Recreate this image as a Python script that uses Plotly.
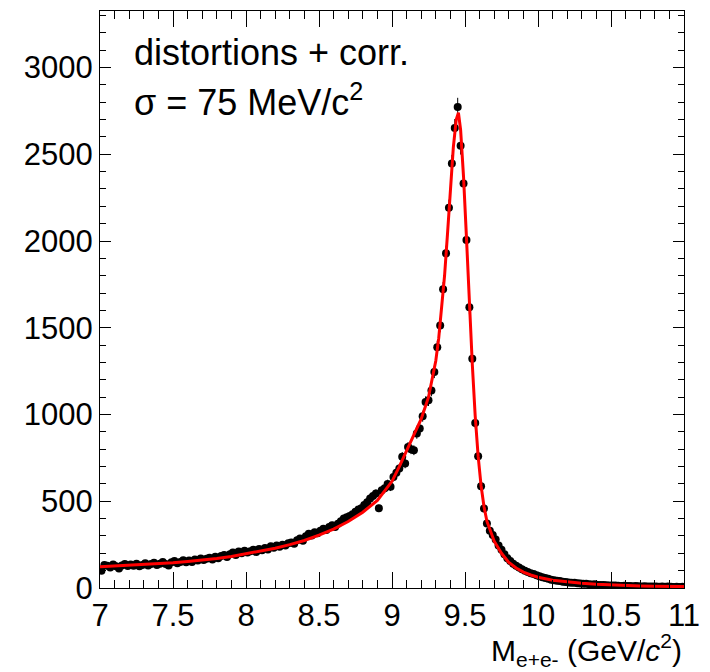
import numpy as np
import plotly.graph_objects as go

# Histogram binning (7 - 11 GeV/c^2, 200 bins)
x_lo, x_hi, n_bins = 7.0, 11.0, 200
bin_centers = x_lo + (np.arange(n_bins) + 0.5) * (x_hi - x_lo) / n_bins

# Entries per bin
counts = [
    100, 132, 128, 118, 135, 125, 112, 130, 138, 127,
    135, 128, 140, 125, 133, 142, 130, 138, 145, 132,
    140, 150, 138, 130, 148, 155, 142, 150, 160, 148,
    158, 150, 165, 158, 170, 162, 168, 175, 165, 180,
    172, 185, 190, 178, 195, 205, 190, 210, 200, 215,
    205, 212, 220, 208, 225, 218, 230, 222, 240, 232,
    245, 238, 250, 245, 258, 262, 255, 275, 285, 272,
    298, 312, 302, 322, 315, 330, 342, 335, 352, 362,
    352, 370, 385, 400, 408, 415, 425, 440, 452, 460,
    478, 495, 516, 530, 545, 459, 564, 575, 600, 583,
    640, 665, 689, 756, 717, 813, 800, 794, 890, 919,
    990, 1072, 1082, 1139, 1245, 1388, 1513, 1722, 1929, 2192,
    2447, 2652, 2773, 2549, 2332, 2006, 1618, 1322, 951, 759,
    587, 458, 372, 330, 305, 280, 245, 220, 195, 172,
    155, 140, 128, 118, 108, 100, 92, 85, 80, 74,
    68, 62, 57, 53, 48, 45, 42, 40, 36, 35,
    32, 30, 30, 27, 26, 24, 24, 22, 20, 21,
    18, 17, 18, 16, 15, 14, 15, 13, 12, 13,
    11, 12, 10, 11, 10, 9, 10, 9, 8, 9,
    8, 7, 8, 7, 8, 7, 6, 7, 6, 7,
]
errors = np.sqrt(np.array(counts, dtype=float))

# Fit curve
fit_x = [7.0, 7.1, 7.2, 7.3, 7.4, 7.5, 7.6, 7.7, 7.8, 7.9,
         8.0, 8.1, 8.2, 8.3, 8.4, 8.5, 8.6, 8.7, 8.8, 8.9,
         9.0, 9.05, 9.1, 9.15, 9.2, 9.25, 9.3, 9.32, 9.34, 9.36,
         9.38, 9.40, 9.42, 9.44, 9.455, 9.47, 9.49, 9.51, 9.53, 9.55,
         9.57, 9.59, 9.61, 9.63, 9.65, 9.70, 9.75, 9.80, 9.85, 9.90,
         9.95, 10.0, 10.1, 10.2, 10.3, 10.4, 10.5, 10.6, 10.7, 10.8,
         10.9, 11.0]
fit_y = [123, 127, 131, 136, 141, 146, 153, 161, 170, 182,
         197, 212, 229, 250, 274, 305, 340, 383, 437, 505,
         615, 700, 790, 880, 975, 1100, 1310, 1440, 1600, 1800,
         2040, 2300, 2540, 2700, 2740, 2640, 2370, 2020, 1640, 1290,
         990, 760, 590, 470, 385, 270, 200, 148, 115, 92,
         75, 62, 45, 34, 27, 21, 17, 14, 12, 10,
         9, 8]

label_font = "Liberation Sans, Arial, Helvetica, sans-serif"

fig = go.Figure()
fig.add_trace(go.Scatter(
    x=bin_centers, y=counts, mode="markers",
    marker=dict(color="black", size=8),
    error_y=dict(type="data", array=errors, color="black", thickness=1, width=0),
    hoverinfo="skip",
))
fig.add_trace(go.Scatter(
    x=fit_x, y=fit_y, mode="lines",
    line=dict(color="#ff0000", width=3),
    hoverinfo="skip",
))

fig.update_layout(
    width=710, height=672,
    margin=dict(l=100, r=20, t=10, b=84),
    plot_bgcolor="white", paper_bgcolor="white",
    showlegend=False,
    font=dict(family=label_font, color="black"),
)
fig.update_xaxes(
    range=[7, 11], tick0=7, dtick=0.5,
    ticks="inside", ticklen=16, tickwidth=1, tickcolor="black",
    showline=True, linecolor="black", linewidth=1, mirror="allticks",
    showgrid=False, zeroline=False,
    minor=dict(dtick=0.1, ticklen=8, ticks="inside", tickcolor="black", showgrid=False),
    tickfont=dict(family=label_font, size=31, color="black"),
)
fig.update_yaxes(
    range=[0, 3326], tick0=0, dtick=500,
    ticks="inside", ticklen=11, tickwidth=1, tickcolor="black",
    showline=True, linecolor="black", linewidth=1, mirror="allticks",
    showgrid=False, zeroline=False,
    minor=dict(dtick=100, ticklen=6, ticks="inside", tickcolor="black", showgrid=False),
    tickfont=dict(family=label_font, size=31, color="black"),
)

fig.add_annotation(
    xref="paper", yref="paper", x=0.054, y=0.928, xanchor="left", yanchor="middle",
    text="distortions + corr.", showarrow=False,
    font=dict(family=label_font, size=36, color="black"),
)
fig.add_annotation(
    xref="paper", yref="paper", x=0.054, y=0.845, xanchor="left", yanchor="middle",
    text="σ = 75 MeV/c<sup>2</sup>", showarrow=False,
    font=dict(family=label_font, size=36, color="black"),
)
fig.add_annotation(
    xref="paper", yref="paper", x=1.0, y=-0.107, xanchor="right", yanchor="middle",
    text="M<sub>e+e-</sub> (GeV/<i>c</i><sup>2</sup>)", showarrow=False,
    font=dict(family=label_font, size=30, color="black"),
)

fig.write_html("out.html")
